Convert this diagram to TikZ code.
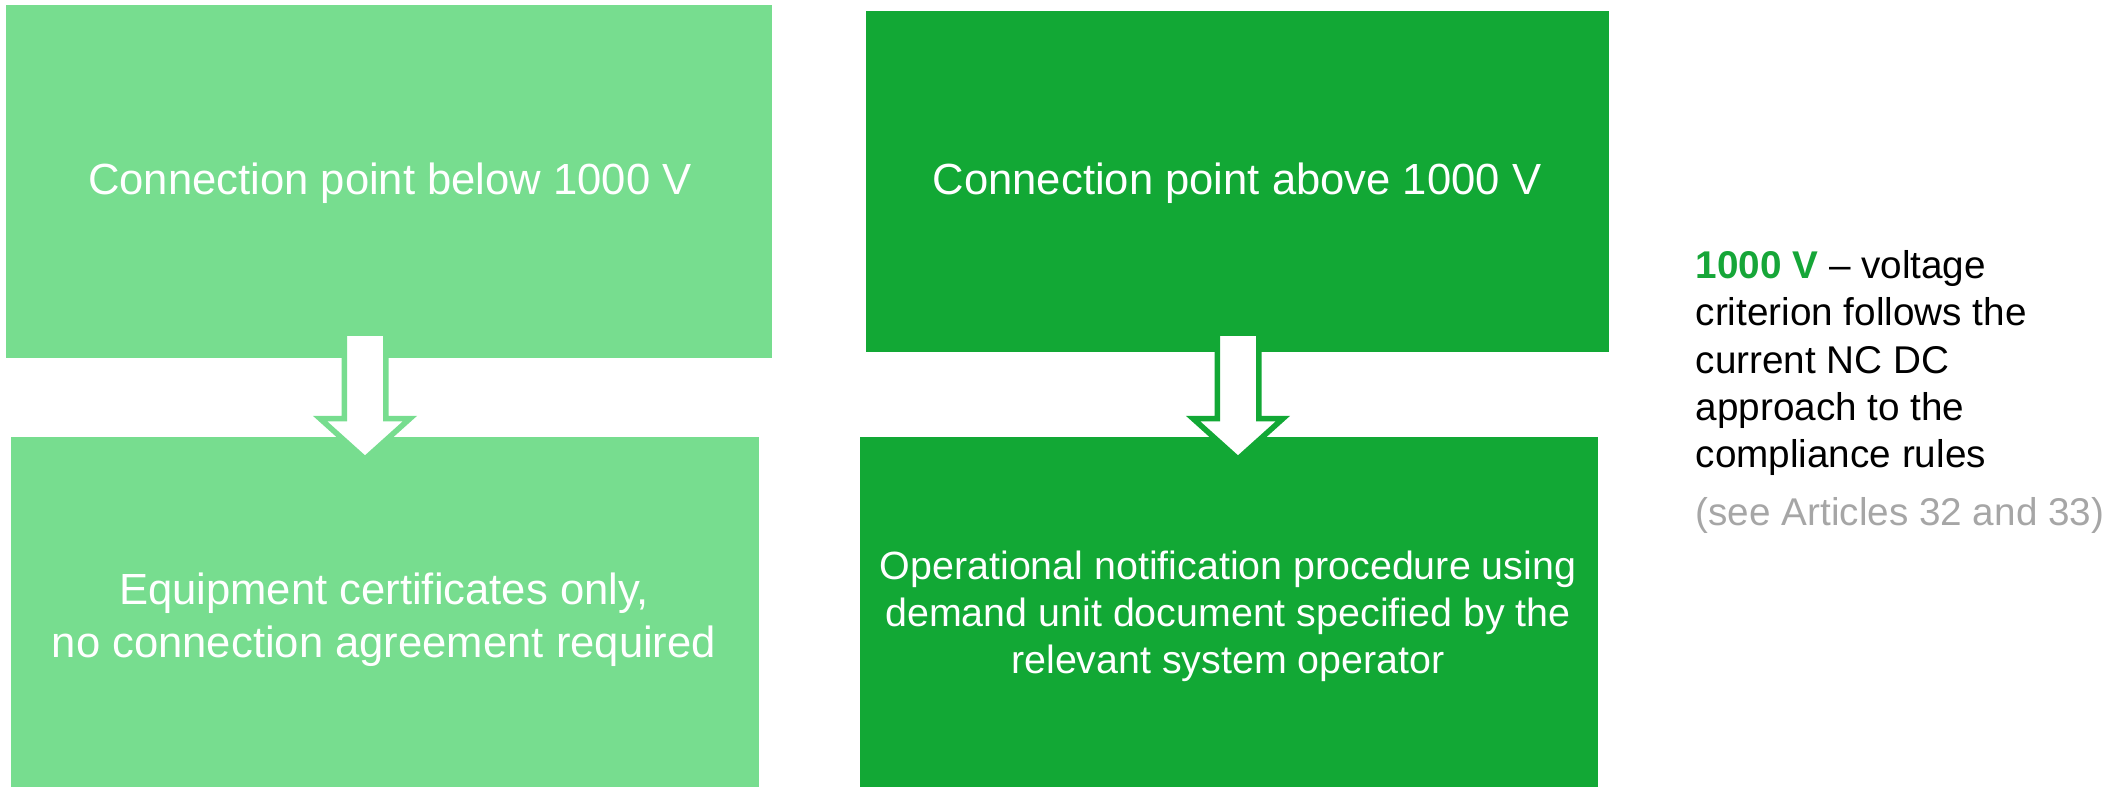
\documentclass[tikz,border=0pt]{standalone}
\usepackage{fontspec}
\setmainfont{Liberation Sans}
\usepackage{xcolor}
\definecolor{lightgreen}{RGB}{119,221,143}
\definecolor{darkgreen}{RGB}{18,168,53}
\definecolor{notegreen}{RGB}{22,166,56}
\definecolor{notegray}{RGB}{166,166,166}
\tikzset{%
	box/.style={
		rectangle,
		draw=none,
		inner sep=0pt
	},
	boxtext/.style={
		text=white,
		align=center,
		inner sep=0pt
	},
	blockarrow/.style={
		draw=#1,
		fill=white,
		line width=0.055cm,
		line join=miter
	},
}

\begin{document}
\begin{tikzpicture}[x=0.01cm, y=-0.01cm]
			\useasboundingbox (0,0) rectangle (2120,787);
			
			% Draw the upper boxes
			\node[box, fill=lightgreen, minimum width=7.66cm, minimum height=3.53cm] (below) at (389,181.5) {};
			\node[box, fill=darkgreen, minimum width=7.43cm, minimum height=3.41cm] (above) at (1237.5,181.5) {};
			
			% Draw the lower boxes
			\node[box, fill=lightgreen, minimum width=7.48cm, minimum height=3.50cm] (certs) at (385,612) {};
			\node[box, fill=darkgreen, minimum width=7.38cm, minimum height=3.50cm] (notif) at (1229,612) {};
			
			% Texts in the boxes
			\node[boxtext, font=\fontsize{12.4}{15.1}\selectfont] (belowtext) at (390,183.5) {Connection point below 1000 V};
			\node[boxtext, font=\fontsize{12.4}{15.1}\selectfont] (abovetext) at (1237,183.5) {Connection point above 1000 V};
			\node[boxtext, font=\fontsize{12.4}{15.1}\selectfont] (certstext) at (384,620) {Equipment certificates only,\\ no connection agreement required};
			\node[boxtext, font=\fontsize{11.2}{13.4}\selectfont] (notiftext) at (1228,616.5) {Operational notification procedure using\\ demand unit document specified by the\\ relevant system operator};
			
			% Draw the arrows
			\coordinate (arrowbelow) at (365,333);
			\coordinate (arrowabove) at (1238,333);
			\draw[blockarrow=lightgreen] (arrowbelow) ++(-20.75,0) -- ++(41.5,0) -- ++(0,85.5) -- ++(24.25,0) -- ++(-45,40.5) -- ++(-45,-40.5) -- ++(24.25,0) -- cycle;
			\draw[blockarrow=darkgreen] (arrowabove) ++(-20.75,0) -- ++(41.5,0) -- ++(0,85.5) -- ++(24.25,0) -- ++(-45,40.5) -- ++(-45,-40.5) -- ++(24.25,0) -- cycle;
			
			% Note on the right
			\node[anchor=west, align=left, inner sep=0pt, font=\fontsize{11}{13.4}\selectfont] (note) at (1695,392) {{\bfseries\color{notegreen}1000 V} – voltage\\ criterion follows the\\ current NC DC\\ approach to the\\ compliance rules\\[3.1pt] {\color{notegray}(see Articles 32 and 33)}};
			
		\end{tikzpicture}
\end{document}
